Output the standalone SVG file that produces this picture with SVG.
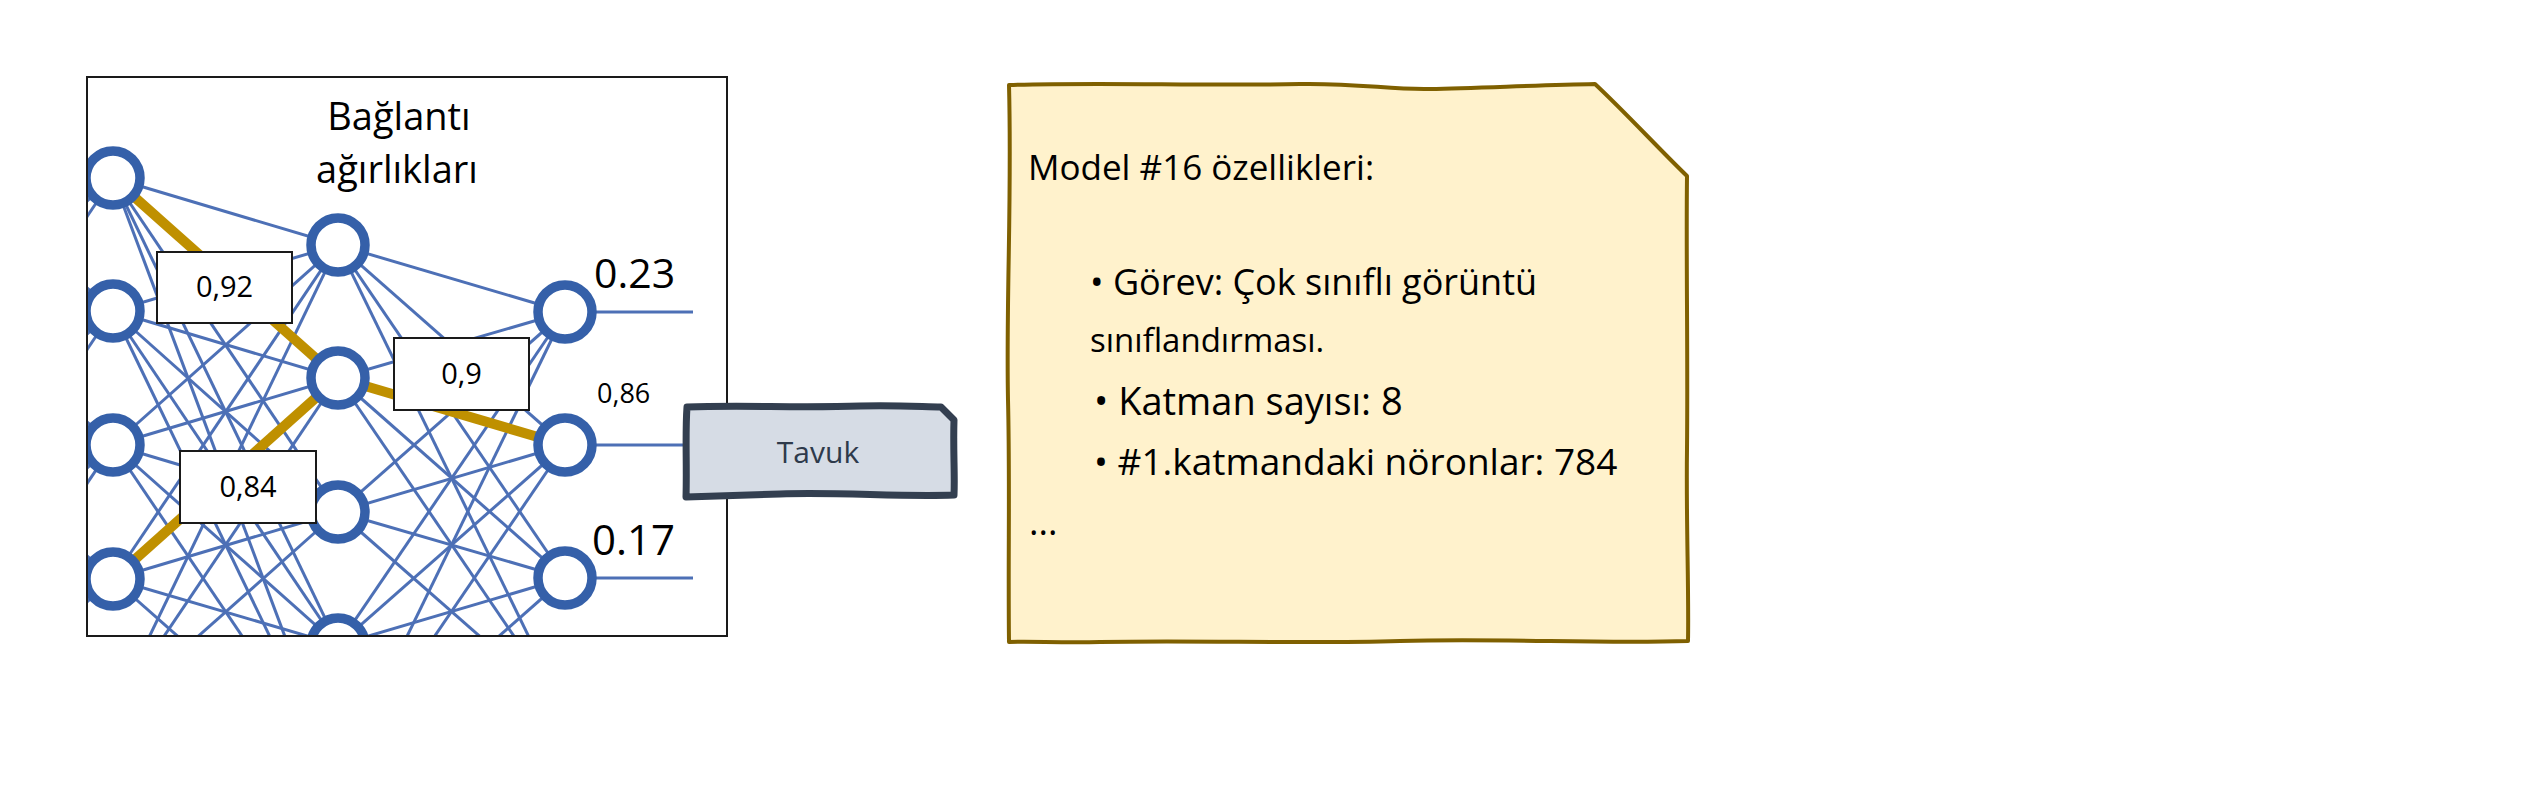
<svg xmlns="http://www.w3.org/2000/svg" width="2535" height="787" viewBox="0 0 2535 787">
<defs>
<style>
.t{font-family:"Open Sans","Noto Sans","Liberation Sans",sans-serif;fill:#000}
.edge{stroke:#4d70b6;stroke-width:3;fill:none}
.gold{stroke:#bf9000;stroke-width:10;fill:none}
.neuron{fill:#fff;stroke:#3560a9;stroke-width:9.5}
.wbox{fill:#fff;stroke:#1a1a1a;stroke-width:2}
</style>
<clipPath id="panel"><rect x="88" y="78" width="638" height="557"/></clipPath>
</defs>
<rect width="2535" height="787" fill="#fff"/>
<g id="network-panel">
<rect x="87" y="77" width="640" height="559" fill="#fff"/>
<g clip-path="url(#panel)">
<g id="connectors">
<g class="edge">
<!-- layer 0 (off-panel) to layer 1 -->
<line x1="-112" y1="111" x2="113" y2="178"/><line x1="-112" y1="245" x2="113" y2="178"/><line x1="-112" y1="378" x2="113" y2="178"/><line x1="-112" y1="512" x2="113" y2="178"/>
<line x1="-112" y1="111" x2="113" y2="311"/><line x1="-112" y1="245" x2="113" y2="311"/><line x1="-112" y1="378" x2="113" y2="311"/><line x1="-112" y1="512" x2="113" y2="311"/><line x1="-112" y1="645" x2="113" y2="311"/>
<line x1="-112" y1="245" x2="113" y2="445"/><line x1="-112" y1="378" x2="113" y2="445"/><line x1="-112" y1="512" x2="113" y2="445"/><line x1="-112" y1="645" x2="113" y2="445"/><line x1="-112" y1="778" x2="113" y2="445"/>
<line x1="-112" y1="378" x2="113" y2="579"/><line x1="-112" y1="512" x2="113" y2="579"/><line x1="-112" y1="645" x2="113" y2="579"/><line x1="-112" y1="778" x2="113" y2="579"/>
<line x1="-112" y1="512" x2="113" y2="712"/><line x1="-112" y1="645" x2="113" y2="712"/>
<!-- layer 1 to layer 2 -->
<line x1="113" y1="178" x2="338" y2="245"/><line x1="113" y1="178" x2="338" y2="512"/><line x1="113" y1="178" x2="338" y2="645"/><line x1="113" y1="178" x2="338" y2="778"/>
<line x1="113" y1="311" x2="338" y2="245"/><line x1="113" y1="311" x2="338" y2="378"/><line x1="113" y1="311" x2="338" y2="512"/><line x1="113" y1="311" x2="338" y2="645"/><line x1="113" y1="311" x2="338" y2="778"/>
<line x1="113" y1="445" x2="338" y2="245"/><line x1="113" y1="445" x2="338" y2="378"/><line x1="113" y1="445" x2="338" y2="512"/><line x1="113" y1="445" x2="338" y2="645"/><line x1="113" y1="445" x2="338" y2="778"/>
<line x1="113" y1="579" x2="338" y2="245"/><line x1="113" y1="579" x2="338" y2="512"/><line x1="113" y1="579" x2="338" y2="645"/><line x1="113" y1="579" x2="338" y2="778"/>
<line x1="113" y1="712" x2="338" y2="245"/><line x1="113" y1="712" x2="338" y2="378"/><line x1="113" y1="712" x2="338" y2="512"/><line x1="113" y1="712" x2="338" y2="645"/>
<!-- layer 2 to layer 3 -->
<line x1="338" y1="245" x2="565" y2="312"/><line x1="338" y1="245" x2="565" y2="445"/><line x1="338" y1="245" x2="565" y2="578"/><line x1="338" y1="245" x2="565" y2="711"/>
<line x1="338" y1="378" x2="565" y2="312"/><line x1="338" y1="378" x2="565" y2="578"/><line x1="338" y1="378" x2="565" y2="711"/>
<line x1="338" y1="512" x2="565" y2="312"/><line x1="338" y1="512" x2="565" y2="445"/><line x1="338" y1="512" x2="565" y2="578"/><line x1="338" y1="512" x2="565" y2="711"/>
<line x1="338" y1="645" x2="565" y2="312"/><line x1="338" y1="645" x2="565" y2="445"/><line x1="338" y1="645" x2="565" y2="578"/><line x1="338" y1="645" x2="565" y2="711"/>
<line x1="338" y1="778" x2="565" y2="312"/><line x1="338" y1="778" x2="565" y2="445"/><line x1="338" y1="778" x2="565" y2="578"/>
<!-- outputs -->
<line x1="565" y1="312" x2="693" y2="312"/><line x1="565" y1="445" x2="693" y2="445"/><line x1="565" y1="578" x2="693" y2="578"/>
</g>
<g class="gold">
<line x1="113" y1="178" x2="338" y2="378"/>
<line x1="113" y1="579" x2="338" y2="378"/>
<line x1="338" y1="378" x2="565" y2="445"/>
</g>
</g>
<g id="l1-n1"><circle class="neuron" cx="113" cy="178" r="27"/></g>
<g id="l1-n2"><circle class="neuron" cx="113" cy="311" r="27"/></g>
<g id="l1-n3"><circle class="neuron" cx="113" cy="445" r="27"/></g>
<g id="l1-n4"><circle class="neuron" cx="113" cy="579" r="27"/></g>
<g id="l2-n1"><circle class="neuron" cx="338" cy="245" r="27"/></g>
<g id="l2-n2"><circle class="neuron" cx="338" cy="378" r="27"/></g>
<g id="l2-n3"><circle class="neuron" cx="338" cy="512" r="27"/></g>
<g id="l2-n4"><circle class="neuron" cx="338" cy="645" r="27"/></g>
<g id="l3-n1"><circle class="neuron" cx="565" cy="312" r="27"/></g>
<g id="l3-n2"><circle class="neuron" cx="565" cy="445" r="27"/></g>
<g id="l3-n3"><circle class="neuron" cx="565" cy="578" r="27"/></g>
</g>
<rect x="87" y="77" width="640" height="559" fill="none" stroke="#1a1a1a" stroke-width="2"/>
<g id="title">
<text class="t" x="399" y="130" font-size="38" text-anchor="middle">Bağlantı</text>
<text class="t" x="397" y="183" font-size="38" text-anchor="middle">ağırlıkları</text>
</g>
<g id="w-092"><rect class="wbox" x="157" y="252" width="135" height="71"/><text class="t" x="224.5" y="297" font-size="29" text-anchor="middle">0,92</text></g>
<g id="w-09"><rect class="wbox" x="394" y="338" width="135" height="72"/><text class="t" x="461.5" y="384" font-size="29" text-anchor="middle">0,9</text></g>
<g id="w-084"><rect class="wbox" x="180" y="451" width="136" height="72"/><text class="t" x="248" y="497" font-size="29" text-anchor="middle">0,84</text></g>
<g id="out-labels">
<text class="t" x="594" y="288" font-size="41">0.23</text>
<text class="t" x="597" y="403" font-size="27">0,86</text>
<text class="t" x="592" y="555" font-size="42">0.17</text>
</g>
</g>
<g id="tavuk">
<path d="M687,407 C740,405 800,408 860,406 C900,405 925,407 941,407 L954,420 C953,450 955,475 954,495 C900,497 840,492 780,494 C740,495 710,496 686,497 C687,465 685,435 687,407 Z" fill="#d6dce5" stroke="#333f50" stroke-width="7" stroke-linejoin="round"/>
<text x="818" y="463" font-size="30" text-anchor="middle" fill="#2e3a4b" font-family="'Open Sans','Noto Sans',sans-serif">Tavuk</text>
</g>
<g id="model-note">
<path d="M1009,85 C1100,82 1200,86 1300,84 C1360,83 1390,90 1430,89 C1480,88 1540,85 1595,84 C1625,112 1660,150 1687,176 C1686,260 1688,350 1687,450 C1686,520 1689,590 1688,641 C1600,644 1500,638 1400,641 C1300,644 1200,640 1100,642 C1060,643 1030,641 1009,642 C1008,560 1010,480 1008,400 C1006,300 1012,200 1009,85 Z" fill="#fff2cc" stroke="#7f6000" stroke-width="4" stroke-linejoin="round"/>
<text class="t" x="1028" y="180" font-size="35">Model #16 özellikleri:</text>
<text class="t" x="1090" y="295" font-size="36">• Görev: Çok sınıflı görüntü</text>
<text class="t" x="1090" y="352" font-size="33">sınıflandırması.</text>
<text class="t" x="1094" y="415" font-size="38">• Katman sayısı: 8</text>
<text class="t" x="1094" y="475" font-size="37">• #1.katmandaki nöronlar: 784</text>
<text class="t" x="1029" y="535" font-size="36">...</text>
</g>
</svg>
